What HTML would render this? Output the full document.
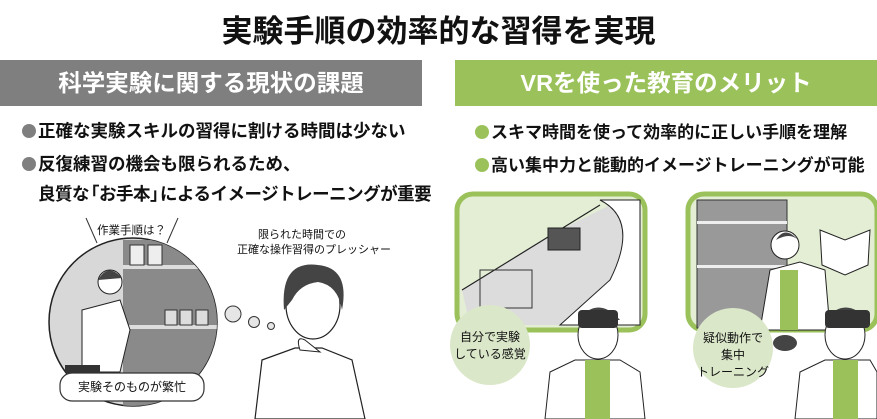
<!DOCTYPE html>
<html><head><meta charset="utf-8"><style>
*{margin:0;padding:0;box-sizing:border-box}
body{width:877px;height:419px;background:#fff;position:relative;overflow:hidden;font-family:"Liberation Sans","Noto Sans CJK JP",sans-serif;color:#111}
.a{position:absolute;white-space:nowrap}
.t{left:0;width:877px;top:6px;text-align:center;font-size:31px;font-weight:bold}
.h{top:60px;height:46px;color:#fff;font-size:23.5px;font-weight:bold;text-align:center;line-height:46px}
.b{font-size:17.5px;font-weight:bold}
.dot{display:inline-block;width:14px;height:14px;border-radius:50%;vertical-align:-1px;margin-right:2px}
.s{font-size:11px}
</style></head><body>
<div class="a t">実験手順の効率的な習得を実現</div>
<div class="a h" style="left:0;width:422px;background:#7f7f7f">科学実験に関する現状の課題</div>
<div class="a h" style="left:455px;width:422px;background:#9bc25a">VRを使った教育のメリット</div>
<div class="a b" style="left:22px;top:118px"><span class="dot" style="background:#7f7f7f"></span>正確な実験スキルの習得に割ける時間は少ない</div>
<div class="a b" style="left:22px;top:151px"><span class="dot" style="background:#7f7f7f"></span>反復練習の機会も限られるため、</div>
<div class="a b" style="left:38px;top:181px;letter-spacing:-0.5px">良質な<span style="margin-left:-7px">「</span>お手本<span style="margin-right:-7px">」</span>によるイメージトレーニングが重要</div>
<div class="a b" style="left:475px;top:118px;font-size:17px"><span class="dot" style="background:#9bc25a"></span>スキマ時間を使って効率的に正しい手順を理解</div>
<div class="a b" style="left:475px;top:151px;font-size:17px"><span class="dot" style="background:#9bc25a"></span>高い集中力と能動的イメージトレーニングが可能</div>

<svg class="a" style="left:0;top:0" width="877" height="419">
<defs><clipPath id="c1"><circle cx="133" cy="322" r="84"/></clipPath></defs>
<circle cx="133" cy="322" r="84" fill="#d8d8d8" stroke="#222" stroke-width="1.5"/>
<g clip-path="url(#c1)">
<rect x="123" y="240" width="100" height="170" fill="#8a8a8a"/>
<rect x="123" y="265" width="100" height="4" fill="#ddd"/>
<rect x="123" y="325" width="100" height="4" fill="#ddd"/>
<rect x="130" y="245" width="14" height="20" fill="#eee" stroke="#333"/>
<rect x="148" y="245" width="14" height="20" fill="#eee" stroke="#333"/>
<rect x="165" y="310" width="12" height="15" fill="#ddd" stroke="#333"/>
<rect x="180" y="310" width="12" height="15" fill="#ddd" stroke="#333"/>
<rect x="196" y="310" width="12" height="15" fill="#ddd" stroke="#333"/>
<path d="M82 310 L120 300 L130 330 L120 372 L82 372Z" fill="#fff" stroke="#222"/>
<circle cx="110" cy="282" r="12" fill="#fff" stroke="#222"/>
<path d="M98 280 Q108 262 122 278" fill="#444"/>
<rect x="65" y="365" width="35" height="8" fill="#333"/>
</g>
<line x1="86" y1="218" x2="97" y2="243" stroke="#333"/>
<line x1="178" y1="218" x2="167" y2="243" stroke="#333"/>
<rect x="60" y="373" width="144" height="28" rx="12" fill="#fff" stroke="#333" stroke-width="1.2"/>
<circle cx="233" cy="314" r="8" fill="#e6e6e6" stroke="#333"/>
<circle cx="254" cy="322" r="5.5" fill="#e6e6e6" stroke="#333"/>
<circle cx="271" cy="326" r="3.5" fill="#e6e6e6" stroke="#333"/>
<path d="M255 419 L262 360 L295 348 L322 348 L352 360 L365 419Z" fill="#fff" stroke="#222" stroke-width="1.2"/>
<ellipse cx="313" cy="305" rx="27" ry="34" fill="#fff" stroke="#222" stroke-width="1.2"/>
<path d="M284 310 Q280 260 318 265 Q350 268 342 310 Q338 285 318 282 Q300 284 292 300Z" fill="#444"/>
<path d="M300 350 Q295 335 305 340 L320 352 Z" fill="#fff" stroke="#222"/>
<rect x="457" y="194" width="188" height="136" rx="16" fill="#e3eed5" stroke="#9bc25a" stroke-width="5"/>
<path d="M462 290 L560 230 L620 200 L640 200 L640 325 L470 325Z" fill="#dcdcdc"/>
<path d="M462 290 L600 205" stroke="#222" stroke-width="1.2"/>
<rect x="548" y="228" width="32" height="22" fill="#555" stroke="#222"/>
<path d="M600 200 Q640 220 610 280 L560 325 L640 325 L640 200Z" fill="#fff" stroke="#222"/>
<rect x="480" y="270" width="52" height="38" fill="none" stroke="#333"/>
<rect x="688" y="194" width="189" height="136" rx="16" fill="#e3eed5" stroke="#9bc25a" stroke-width="5"/>
<rect x="697" y="200" width="90" height="128" fill="#999" stroke="#333"/>
<rect x="697" y="221" width="90" height="3" fill="#eee"/>
<rect x="697" y="265" width="90" height="3" fill="#eee"/>
<path d="M760 330 L770 270 L800 262 L825 270 L830 330Z" fill="#fff" stroke="#222"/>
<rect x="780" y="270" width="18" height="60" fill="#9bc25a"/>
<circle cx="785" cy="245" r="14" fill="#fff" stroke="#222"/>
<path d="M776 240 Q785 225 798 240 Q790 232 776 240Z" fill="#444"/>
<path d="M820 230 L845 240 L870 230 L868 265 L845 275 L822 265Z" fill="#fff" stroke="#222"/>
<path d="M545 419 L550 372 L575 360 L620 360 L640 372 L645 419Z" fill="#fff" stroke="#222"/>
<rect x="585" y="360" width="25" height="59" fill="#9bc25a"/>
<ellipse cx="598" cy="335" rx="20" ry="24" fill="#fff" stroke="#222"/>
<path d="M578 320 Q598 295 620 320Z" fill="#444"/>
<rect x="578" y="310" width="40" height="18" rx="4" fill="#333"/>
<path d="M795 419 L800 372 L825 360 L870 360 L877 372 L877 419Z" fill="#fff" stroke="#222"/>
<rect x="833" y="360" width="25" height="59" fill="#9bc25a"/>
<ellipse cx="845" cy="335" rx="20" ry="24" fill="#fff" stroke="#222"/>
<path d="M825 320 Q845 295 868 320Z" fill="#444"/>
<rect x="825" y="310" width="45" height="18" rx="4" fill="#333"/>
<ellipse cx="785" cy="343" rx="12" ry="8" fill="#444"/>
<circle cx="490" cy="345" r="40" fill="#dbe7c9"/>
<circle cx="733" cy="348" r="40" fill="#dbe7c9"/>
</svg>
<div class="a s" style="left:97px;top:222px;font-size:11.5px">作業手順は？</div>
<div class="a s" style="left:237px;top:228px;width:130px;text-align:center;line-height:15px">限られた時間での<br>正確な操作習得のプレッシャー</div>
<div class="a" style="left:60px;top:378px;width:144px;text-align:center;font-size:12px">実験そのものが繁忙</div>
<div class="a" style="left:450px;top:329px;width:80px;text-align:center;font-size:12px;line-height:17px">自分で実験<br>している感覚</div>
<div class="a" style="left:693px;top:330px;width:80px;text-align:center;font-size:12px;line-height:17px">疑似動作で<br>集中<br>トレーニング</div>
</body></html>
